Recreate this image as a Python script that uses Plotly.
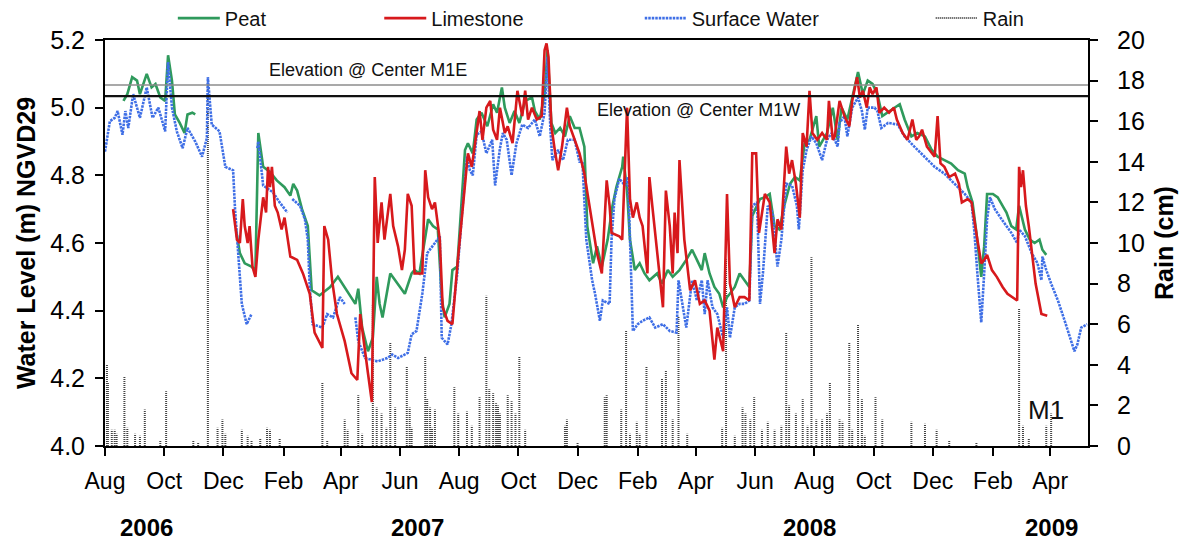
import pandas as pd
import plotly.graph_objects as go

# ---------------------------------------------------------------------------
# Site M1 record: water levels (m NGVD29) and daily rain (cm)
# Times are given as day of record, counted from the start date below.
# ---------------------------------------------------------------------------
RECORD_START = pd.Timestamp("2006-08-01")
RECORD_END = pd.Timestamp("2009-05-10")

PEAT_RUN_1 = [
    (19, 5.02), (23, 5.04), (28, 5.09), (33, 5.08), (36, 5.04), (43, 5.10), (48, 5.06),
    (52, 5.07), (57, 5.03), (62, 5.02), (65, 5.155), (69, 5.08), (72, 4.98), (77, 4.955),
    (82, 4.925), (85, 4.98), (90, 4.985), (93, 4.98),
]
PEAT_RUN_2 = [
    (135, 4.64), (139, 4.57), (144, 4.54), (151, 4.53), (155, 4.52), (158, 4.925), (163, 4.825),
    (170, 4.81), (177, 4.785), (185, 4.765), (191, 4.74), (194, 4.775), (198, 4.755), (203, 4.70),
    (209, 4.65), (213, 4.46), (221, 4.445), (232, 4.47), (240, 4.50), (247, 4.47), (258, 4.42),
    (261, 4.465), (265, 4.35), (271, 4.28), (276, 4.32), (280, 4.50), (283, 4.42), (286, 4.38),
    (290, 4.45), (294, 4.51), (299, 4.49), (304, 4.47), (309, 4.45), (316, 4.51), (319, 4.52),
    (324, 4.51), (333, 4.67), (338, 4.65), (343, 4.64), (347, 4.44), (350, 4.38), (355, 4.42),
    (358, 4.52), (363, 4.53), (366, 4.67), (371, 4.875), (374, 4.895), (379, 4.865), (383, 4.965),
    (388, 4.985), (394, 4.945), (400, 5.01), (404, 4.985), (409, 5.06), (412, 5.00), (417, 4.955),
    (422, 4.99), (427, 4.955), (433, 5.02), (440, 5.03), (443, 4.99), (448, 4.965), (453, 5.04),
    (456, 5.17), (460, 4.955), (464, 4.925), (469, 4.94), (474, 4.915), (479, 4.975), (484, 4.94),
    (489, 4.94), (494, 4.885), (497, 4.65), (503, 4.54), (507, 4.59), (512, 4.53), (518, 4.61),
    (523, 4.71), (527, 4.765), (533, 4.825), (534, 4.855), (538, 4.755), (541, 4.61), (546, 4.52),
    (551, 4.54), (556, 4.51), (561, 4.49), (569, 4.51), (574, 4.48), (580, 4.52), (585, 4.50),
    (592, 4.52), (599, 4.55), (605, 4.58), (610, 4.55), (615, 4.52), (618, 4.57), (623, 4.51),
    (628, 4.47), (633, 4.45), (637, 4.41), (641, 4.44), (644, 4.45), (649, 4.47), (654, 4.51),
    (659, 4.49), (664, 4.47), (667, 4.68), (675, 4.73), (680, 4.735), (685, 4.745), (690, 4.65),
    (695, 4.64), (700, 4.71), (706, 4.775), (711, 4.795), (716, 4.785), (721, 4.895), (726, 4.905),
    (733, 4.975), (736, 4.885), (744, 4.925), (750, 5.00), (755, 4.905), (759, 5.00), (765, 4.965),
    (770, 5.03), (776, 5.105), (781, 5.04), (786, 5.08), (791, 5.07), (796, 5.04), (801, 4.975),
    (806, 4.985), (814, 5.00), (819, 5.01), (824, 4.965), (831, 4.915), (837, 4.925), (845, 4.915),
    (852, 4.875), (858, 4.855), (865, 4.845), (872, 4.835), (879, 4.815), (886, 4.805), (889, 4.765),
    (894, 4.72), (898, 4.63), (903, 4.50), (906, 4.59), (909, 4.745), (915, 4.745), (920, 4.735),
    (925, 4.71), (929, 4.69), (934, 4.65), (939, 4.64), (942, 4.71), (948, 4.64), (953, 4.61),
    (958, 4.60), (963, 4.61), (966, 4.58), (970, 4.565),
]

LIMESTONE_RUN = [
    (132, 4.70), (136, 4.61), (139, 4.60), (142, 4.73), (144, 4.65), (147, 4.60), (149, 4.65),
    (152, 4.53), (155, 4.50), (158, 4.61), (163, 4.735), (166, 4.69), (168, 4.825), (170, 4.765),
    (172, 4.825), (175, 4.71), (178, 4.69), (182, 4.64), (185, 4.675), (191, 4.56), (198, 4.55),
    (204, 4.51), (211, 4.45), (216, 4.335), (224, 4.29), (226, 4.65), (230, 4.61), (234, 4.49),
    (239, 4.39), (247, 4.31), (254, 4.215), (260, 4.195), (263, 4.39), (266, 4.32), (271, 4.215),
    (275, 4.13), (278, 4.795), (281, 4.60), (285, 4.72), (288, 4.61), (294, 4.745), (297, 4.65),
    (302, 4.59), (306, 4.52), (309, 4.58), (312, 4.745), (316, 4.71), (319, 4.51), (327, 4.51),
    (330, 4.815), (333, 4.735), (337, 4.70), (340, 4.72), (345, 4.61), (348, 4.41), (353, 4.37),
    (358, 4.36), (363, 4.53), (369, 4.71), (374, 4.865), (378, 4.825), (383, 4.935), (386, 4.99),
    (389, 4.905), (393, 5.00), (397, 5.02), (400, 4.935), (404, 4.905), (407, 5.00), (412, 4.925),
    (415, 4.945), (420, 4.895), (425, 5.05), (430, 4.975), (433, 5.05), (436, 4.965), (440, 5.00),
    (445, 4.965), (450, 4.975), (453, 5.17), (455, 5.19), (457, 5.15), (460, 4.945), (464, 4.865),
    (467, 4.815), (471, 4.885), (476, 5.00), (479, 4.945), (484, 4.905), (489, 4.865), (494, 4.805),
    (500, 4.69), (507, 4.57), (512, 4.51), (517, 4.785), (520, 4.71), (522, 4.63), (530, 4.62),
    (533, 4.61), (538, 5.00), (541, 4.73), (544, 4.675), (548, 4.72), (551, 4.675), (554, 4.65),
    (559, 4.51), (561, 4.795), (564, 4.71), (571, 4.51), (575, 4.41), (578, 4.755), (582, 4.65),
    (585, 4.51), (587, 4.69), (590, 4.57), (592, 4.845), (597, 4.61), (603, 4.46), (608, 4.49),
    (613, 4.42), (618, 4.43), (623, 4.40), (628, 4.255), (631, 4.35), (637, 4.28), (641, 4.745),
    (644, 4.48), (649, 4.41), (654, 4.44), (659, 4.44), (664, 4.43), (667, 4.865), (671, 4.865),
    (674, 4.63), (680, 4.745), (685, 4.72), (690, 4.57), (693, 4.67), (697, 4.64), (702, 4.885),
    (705, 4.805), (708, 4.845), (712, 4.775), (716, 4.675), (719, 4.925), (723, 4.885), (726, 5.05),
    (729, 4.925), (734, 4.905), (739, 4.925), (744, 4.905), (746, 5.02), (750, 4.905), (752, 4.915),
    (757, 5.02), (762, 4.975), (767, 4.945), (770, 5.02), (775, 5.09), (778, 5.03), (781, 5.05),
    (785, 5.00), (788, 5.06), (791, 5.04), (795, 5.06), (798, 4.985), (803, 5.00), (808, 4.985),
    (813, 5.00), (816, 4.965), (822, 4.925), (827, 4.905), (832, 4.965), (836, 4.905), (839, 4.915),
    (842, 4.935), (847, 4.885), (850, 4.875), (855, 4.855), (858, 4.975), (861, 4.835), (865, 4.825),
    (870, 4.795), (876, 4.805), (880, 4.775), (883, 4.72), (889, 4.73), (893, 4.72), (896, 4.67),
    (899, 4.61), (903, 4.54), (906, 4.55), (909, 4.565), (914, 4.52), (919, 4.50), (925, 4.47),
    (930, 4.45), (935, 4.44), (940, 4.43), (942, 4.825), (944, 4.765), (946, 4.815), (949, 4.71),
    (952, 4.65), (955, 4.57), (959, 4.48), (965, 4.39), (971, 4.385),
]

SURFACE_RUN_1 = [
    (0, 4.87), (5, 4.96), (10, 4.97), (13, 4.99), (18, 4.92), (21, 4.99), (24, 4.94), (29, 5.04),
    (36, 4.97), (43, 5.06), (49, 4.97), (55, 5.00), (62, 4.93), (65, 5.135), (69, 5.00), (74, 4.93),
    (80, 4.88), (85, 4.94), (93, 4.90), (100, 4.855), (105, 4.91), (106, 5.09), (110, 4.95),
    (118, 4.93), (124, 4.825), (132, 4.815), (134, 4.70), (137, 4.57), (141, 4.42), (146, 4.36),
    (151, 4.39),
]
SURFACE_RUN_2 = [(157, 4.88), (158, 4.90), (163, 4.77), (173, 4.75), (180, 4.72), (188, 4.69)]
SURFACE_RUN_3 = [
    (193, 4.73), (201, 4.71), (206, 4.67), (209, 4.61), (211, 4.47), (214, 4.36), (224, 4.35),
    (229, 4.39), (235, 4.38), (242, 4.44), (247, 4.42),
]
SURFACE_RUN_4 = [
    (258, 4.38), (261, 4.31), (268, 4.26), (276, 4.255), (281, 4.25), (291, 4.26), (296, 4.27),
    (302, 4.26), (312, 4.275), (316, 4.33), (321, 4.34), (327, 4.45), (332, 4.57), (340, 4.60),
    (345, 4.62), (347, 4.32), (353, 4.30), (357, 4.36), (363, 4.51), (368, 4.69), (373, 4.855),
    (376, 4.815), (379, 4.80), (383, 4.92), (388, 4.93), (393, 4.865), (399, 4.905), (402, 4.77),
    (407, 4.88), (410, 4.925), (414, 4.905), (419, 4.80), (424, 4.895), (430, 4.95), (436, 4.94),
    (443, 4.965), (448, 4.915), (453, 4.985), (456, 5.15), (459, 4.935), (461, 4.845), (467, 4.875),
    (472, 4.845), (477, 4.905), (484, 4.905), (489, 4.84), (492, 4.84), (496, 4.61), (502, 4.49),
    (505, 4.45), (510, 4.37), (513, 4.43), (520, 4.42), (522, 4.61), (525, 4.73), (530, 4.79),
    (536, 4.77), (539, 4.795), (541, 4.59), (544, 4.34), (549, 4.36), (554, 4.37), (561, 4.38),
    (567, 4.35), (575, 4.36), (582, 4.34), (589, 4.335), (591, 4.49), (595, 4.42), (599, 4.35),
    (605, 4.49), (610, 4.43), (615, 4.49), (618, 4.39), (621, 4.49), (626, 4.41), (631, 4.39),
    (637, 4.32), (641, 4.41), (644, 4.32), (649, 4.41), (654, 4.42), (659, 4.42), (664, 4.43),
    (667, 4.71), (672, 4.72), (675, 4.42), (678, 4.51), (683, 4.71), (688, 4.69), (693, 4.53),
    (697, 4.61), (702, 4.775), (708, 4.77), (713, 4.71), (715, 4.64), (719, 4.815), (723, 4.875),
    (728, 4.915), (733, 4.895), (739, 4.845), (744, 4.905), (749, 4.925), (755, 4.885), (757, 4.955),
    (762, 4.975), (765, 4.915), (770, 5.00), (776, 5.03), (780, 4.99), (783, 4.935), (786, 5.00),
    (793, 5.00), (796, 4.99), (800, 4.94), (807, 4.955), (817, 4.95), (824, 4.915), (834, 4.885),
    (845, 4.855), (855, 4.825), (865, 4.805), (876, 4.775), (886, 4.745), (893, 4.72), (896, 4.63),
    (899, 4.51), (903, 4.365), (906, 4.51), (909, 4.67), (912, 4.735), (917, 4.70), (924, 4.67),
    (934, 4.63), (940, 4.60), (942, 4.64), (948, 4.62), (955, 4.57), (961, 4.54), (965, 4.49),
    (966, 4.56), (970, 4.52), (975, 4.48), (982, 4.43), (989, 4.37), (996, 4.31), (999, 4.28),
    (1002, 4.30), (1006, 4.35), (1012, 4.36),
]

RAIN_EVENTS = [
    (2, 4.0), (3, 3.1), (7, 0.8), (10, 0.8), (12, 0.6), (20, 3.4), (23, 0.9), (31, 0.6), (36, 0.5),
    (41, 1.8), (57, 0.3), (63, 2.7), (91, 0.3), (96, 0.2), (106, 17.9), (116, 0.9), (121, 1.3),
    (124, 0.6), (141, 0.8), (147, 0.5), (151, 0.3), (160, 0.4), (167, 0.9), (170, 0.8), (180, 0.4),
    (224, 3.1), (229, 0.3), (247, 1.3), (250, 0.8), (261, 2.5), (265, 0.6), (276, 7.0), (280, 1.9),
    (285, 1.6), (290, 0.9), (294, 5.1), (299, 1.9), (311, 3.9), (314, 1.9), (316, 0.9), (330, 4.4),
    (332, 2.3), (335, 1.9), (337, 0.9), (340, 1.8), (360, 2.9), (364, 1.6), (373, 1.7), (378, 1.0),
    (386, 2.4), (393, 7.4), (396, 2.8), (400, 2.6), (403, 2.1), (405, 2.0), (407, 1.6), (415, 2.5),
    (419, 2.2), (423, 1.6), (427, 4.4), (433, 0.8), (474, 1.0), (476, 1.3), (487, 0.2), (515, 2.4),
    (517, 2.5), (532, 1.8), (537, 5.7), (541, 0.6), (548, 1.2), (551, 0.6), (558, 3.9), (574, 3.3),
    (578, 3.7), (585, 1.3), (591, 6.4), (600, 0.6), (636, 0.9), (640, 9.2), (649, 0.5), (657, 1.9),
    (660, 1.6), (665, 1.3), (669, 2.4), (677, 0.8), (683, 1.2), (690, 0.8), (697, 1.0), (702, 5.6),
    (705, 2.0), (712, 1.6), (719, 2.3), (724, 1.0), (728, 9.3), (733, 1.3), (739, 1.3), (744, 1.6),
    (747, 3.1), (757, 1.3), (760, 1.2), (767, 5.1), (770, 0.8), (776, 6.0), (780, 2.3), (783, 0.5),
    (794, 2.4), (801, 1.3), (831, 1.2), (845, 1.1), (857, 0.8), (870, 0.3), (898, 0.2), (942, 6.8),
    (946, 1.0), (952, 0.4), (970, 1.0), (975, 1.6),
]

# Ground elevation at the well-cluster centres (m NGVD29)
ELEV_M1E = 5.067
ELEV_M1W = 5.034

YEAR_LABELS = [("2006", "2006-09-13"), ("2007", "2007-06-19"), ("2008", "2008-07-27"), ("2009", "2009-04-02")]

FONT = "Arial, 'Liberation Sans', Helvetica, sans-serif"
PEAT_GREEN = "#2f9a5c"
LIME_RED = "#d7191c"
SURFACE_BLUE = "#3f6fe6"
RAIN_GREY = "#444444"


def to_time(day):
    return RECORD_START + pd.Timedelta(days=day)


def join_runs(*runs):
    """Concatenate separate logger runs, leaving a gap between them."""
    xs, ys = [], []
    for i, run in enumerate(runs):
        if i:
            xs.append(None)
            ys.append(None)
        for day, level in run:
            xs.append(to_time(day))
            ys.append(level)
    return xs, ys


peat_x, peat_y = join_runs(PEAT_RUN_1, PEAT_RUN_2)
lime_x, lime_y = join_runs(LIMESTONE_RUN)
sw_x, sw_y = join_runs(SURFACE_RUN_1, SURFACE_RUN_2, SURFACE_RUN_3, SURFACE_RUN_4)

# Daily rain drawn as dotted stems from zero
rain_x, rain_y = [], []
for day, cm in RAIN_EVENTS:
    t = to_time(day)
    rain_x += [t, t, None]
    rain_y += [0, cm, None]

fig = go.Figure()

fig.add_trace(go.Scatter(
    x=rain_x, y=rain_y, name="Rain", mode="lines", yaxis="y",
    line=dict(color=RAIN_GREY, width=2, dash="1px,1px"),
    legend="legend4", hoverinfo="skip",
))
fig.add_trace(go.Scatter(
    x=peat_x, y=peat_y, name="Peat", mode="lines", yaxis="y2",
    line=dict(color=PEAT_GREEN, width=2.6), connectgaps=False, legend="legend",
))
fig.add_trace(go.Scatter(
    x=sw_x, y=sw_y, name="Surface Water", mode="lines", yaxis="y2",
    line=dict(color=SURFACE_BLUE, width=2.6, dash="2.5px,1px"), connectgaps=False, legend="legend3",
))
fig.add_trace(go.Scatter(
    x=lime_x, y=lime_y, name="Limestone", mode="lines", yaxis="y2",
    line=dict(color=LIME_RED, width=2.6), connectgaps=False, legend="legend2",
))

# Centre-elevation reference lines
fig.add_shape(type="line", xref="paper", x0=0, x1=1, yref="y2", y0=ELEV_M1E, y1=ELEV_M1E,
              line=dict(color="#8c8c8c", width=1.6))
fig.add_shape(type="line", xref="paper", x0=0, x1=1, yref="y2", y0=ELEV_M1W, y1=ELEV_M1W,
              line=dict(color="#111111", width=2.4))

annotations = [
    dict(text="Elevation @ Center M1E", xref="paper", x=0.2675, xanchor="center", yref="y2", y=ELEV_M1E,
         yanchor="bottom", yshift=3, showarrow=False, font=dict(family=FONT, size=18, color="#111")),
    dict(text="Elevation @ Center M1W", xref="paper", x=0.604, xanchor="center", yref="y2", y=ELEV_M1W,
         yanchor="top", yshift=-2, showarrow=False, font=dict(family=FONT, size=18, color="#111")),
    dict(text="M1", xref="paper", x=0.957, xanchor="center", yref="paper", y=0.089, yanchor="middle",
         showarrow=False, font=dict(family=FONT, size=26, color="#111")),
]
for label, when in YEAR_LABELS:
    annotations.append(dict(text=f"<b>{label}</b>", xref="x", x=when, xanchor="center",
                            yref="paper", y=-0.2, yanchor="middle", showarrow=False,
                            font=dict(family=FONT, size=24, color="#000")))

tick_dates = pd.date_range("2006-08-01", "2009-04-01", freq="2MS")
tick_text = [d.strftime("%b") for d in tick_dates]

legend_common = dict(orientation="h", yref="paper", y=1.054, yanchor="middle", xanchor="left",
                     bgcolor="rgba(0,0,0,0)", font=dict(family=FONT, size=20, color="#111"),
                     itemwidth=42)

fig.update_layout(
    width=1186, height=544,
    margin=dict(l=105, r=98, t=40, b=98, autoexpand=False),
    paper_bgcolor="white", plot_bgcolor="white",
    font=dict(family=FONT, color="#000"),
    showlegend=True,
    legend=dict(x=0.069, **legend_common),
    legend2=dict(x=0.279, **legend_common),
    legend3=dict(x=0.544, **legend_common),
    legend4=dict(x=0.840, **legend_common),
    xaxis=dict(
        type="date", range=[RECORD_START, RECORD_END],
        tickvals=list(tick_dates), ticktext=tick_text,
        ticks="outside", ticklen=8, tickwidth=1.5, tickcolor="#000",
        showline=True, linewidth=2, linecolor="#000", mirror=True,
        showgrid=False, zeroline=False,
        tickfont=dict(family=FONT, size=23, color="#000"), ticklabelstandoff=5,
    ),
    yaxis=dict(
        side="right", range=[0, 20], dtick=2,
        ticks="outside", ticklen=8, tickwidth=1.5, tickcolor="#000",
        showline=True, linewidth=2, linecolor="#000",
        showgrid=False, zeroline=False,
        tickfont=dict(family=FONT, size=25, color="#000"), ticklabelstandoff=14,
        title=dict(text="<b>Rain (cm)</b>", font=dict(family=FONT, size=25, color="#000"), standoff=12),
    ),
    yaxis2=dict(
        overlaying="y", side="left", range=[4.0, 5.2], dtick=0.2, tickformat=".1f",
        ticks="outside", ticklen=8, tickwidth=1.5, tickcolor="#000",
        showline=True, linewidth=2, linecolor="#000",
        showgrid=False, zeroline=False,
        tickfont=dict(family=FONT, size=25, color="#000"), ticklabelstandoff=5,
        title=dict(text="<b>Water Level (m) NGVD29</b>", font=dict(family=FONT, size=25, color="#000"),
                   standoff=7),
    ),
    annotations=annotations,
)

fig.write_html("out.html")
